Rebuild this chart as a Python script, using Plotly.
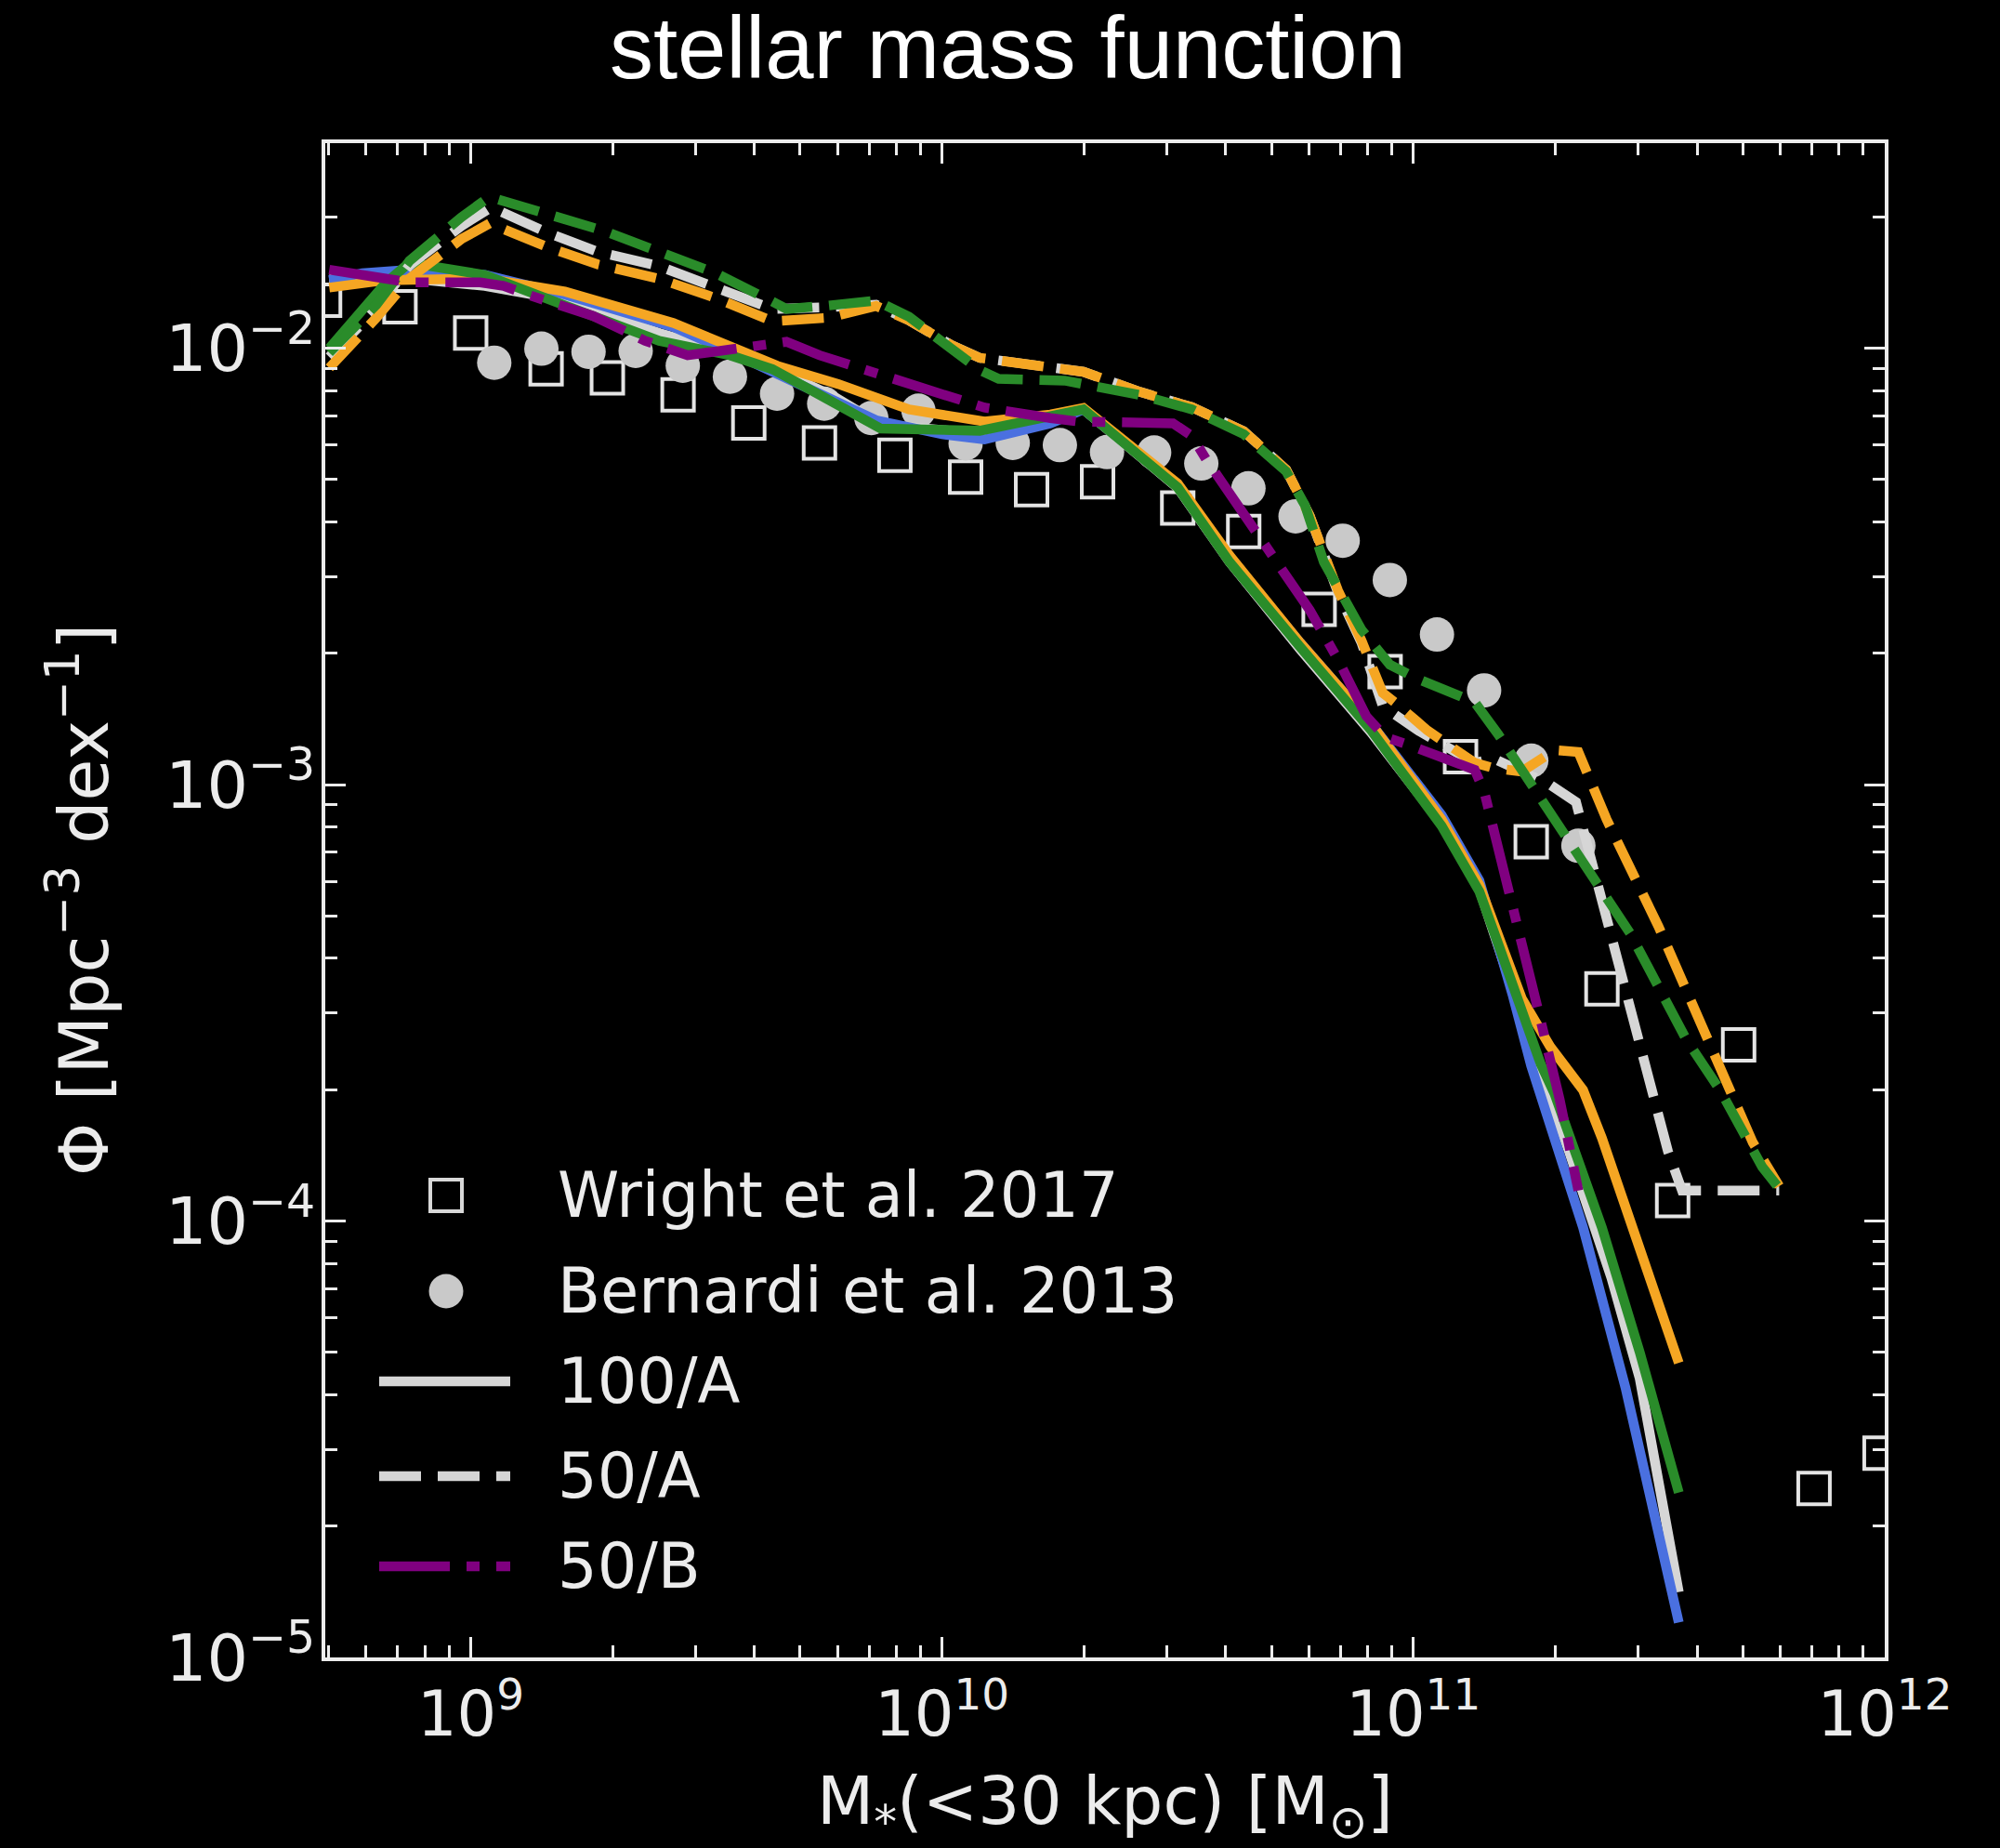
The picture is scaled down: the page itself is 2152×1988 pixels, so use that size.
import numpy as np
import plotly.graph_objects as go

# ---------------- data (log10 M*/Msun , log10 Phi [Mpc^-3 dex^-1]) ----------------
wright_logm = [8.69, 8.85, 9.00, 9.16, 9.29, 9.44, 9.59, 9.74, 9.90, 10.05, 10.19, 10.33,
               10.50, 10.64, 10.80, 10.94, 11.10, 11.25, 11.40, 11.55, 11.69, 11.85, 11.99]
wright_logphi = [-1.89, -1.905, -1.965, -2.047, -2.068, -2.107, -2.171, -2.217, -2.245, -2.295,
                 -2.324, -2.306, -2.366, -2.420, -2.598, -2.741, -2.936, -3.131, -3.468, -3.953,
                 -3.596, -4.613, -4.532]

bernardi_logm = [9.05, 9.15, 9.25, 9.35, 9.45, 9.55, 9.65, 9.75, 9.85, 9.95, 10.05, 10.15,
                 10.25, 10.35, 10.45, 10.55, 10.65, 10.75, 10.85, 10.95, 11.05, 11.15, 11.25, 11.35]
bernardi_logphi = [-2.033, -2.001, -2.008, -2.006, -2.040, -2.065, -2.104, -2.127, -2.160, -2.143,
                   -2.218, -2.217, -2.222, -2.238, -2.239, -2.264, -2.321, -2.385, -2.441, -2.531,
                   -2.656, -2.784, -2.945, -3.140]

# 100/A (solid) runs
solid_grey_logm = [8.70, 8.87, 9.03, 9.20, 9.40, 9.55, 9.65, 9.77, 9.87, 10.08, 10.30, 10.50,
                   10.61, 10.76, 10.91, 11.06, 11.14, 11.25, 11.33, 11.42, 11.48, 11.563]
solid_grey_logphi = [-1.84, -1.84, -1.857, -1.89, -1.965, -2.012, -2.05, -2.11, -2.175, -2.195,
                     -2.14, -2.32, -2.49, -2.69, -2.88, -3.09, -3.24, -3.60, -3.84, -4.13, -4.36, -4.85]

solid_blue_logm = [8.70, 8.77, 8.87, 9.03, 9.20, 9.43, 9.55, 9.65, 9.76, 9.86, 10.00, 10.09,
                   10.23, 10.30, 10.50, 10.61, 10.76, 10.91, 11.06, 11.14, 11.21, 11.25, 11.36,
                   11.45, 11.563]
solid_blue_logphi = [-1.844, -1.828, -1.820, -1.832, -1.877, -1.951, -2.008, -2.057, -2.112, -2.165,
                     -2.197, -2.209, -2.172, -2.140, -2.315, -2.48, -2.675, -2.86, -3.07, -3.22,
                     -3.48, -3.645, -4.015, -4.382, -4.92]

solid_orange_logm = [8.70, 8.82, 9.03, 9.20, 9.43, 9.65, 9.78, 9.93, 10.09, 10.23, 10.30, 10.50,
                     10.61, 10.76, 10.91, 11.06, 11.14, 11.23, 11.29, 11.36, 11.40, 11.48, 11.563]
solid_orange_logphi = [-1.861, -1.844, -1.84, -1.87, -1.942, -2.040, -2.082, -2.140, -2.168, -2.152,
                       -2.137, -2.31, -2.475, -2.675, -2.86, -3.08, -3.23, -3.49, -3.60, -3.70,
                       -3.81, -4.056, -4.325]

solid_green_logm = [8.70, 8.75, 8.82, 8.87, 9.03, 9.20, 9.40, 9.55, 9.64, 9.71, 9.77, 9.87,
                    10.08, 10.30, 10.50, 10.61, 10.76, 10.91, 11.06, 11.14, 11.18, 11.23, 11.27,
                    11.30, 11.40, 11.48, 11.563]
solid_green_logphi = [-2.00, -1.94, -1.85, -1.804, -1.832, -1.902, -1.983, -2.016, -2.048, -2.089,
                      -2.125, -2.184, -2.189, -2.140, -2.319, -2.490, -2.685, -2.875, -3.095, -3.245,
                      -3.365, -3.515, -3.640, -3.71, -4.015, -4.30, -4.622]

# 50/A (dashed) runs
dash_grey_logm = [8.70, 8.80, 8.87, 8.98, 9.044, 9.16, 9.27, 9.40, 9.52, 9.64, 9.76, 9.86, 9.93,
                  10.02, 10.08, 10.17, 10.30, 10.42, 10.53, 10.64, 10.73, 10.78, 10.84, 10.89,
                  10.935, 11.01, 11.13, 11.17, 11.29, 11.345, 11.54, 11.57, 11.776]
dash_grey_logphi = [-2.02, -1.91, -1.81, -1.72, -1.677, -1.734, -1.779, -1.812, -1.861, -1.910,
                    -1.906, -1.900, -1.936, -1.993, -2.022, -2.034, -2.054, -2.100, -2.135, -2.190,
                    -2.278, -2.384, -2.560, -2.675, -2.820, -2.876, -2.950, -2.940, -3.000, -3.040,
                    -3.840, -3.930, -3.930]

dash_orange_logm = [8.70, 8.80, 8.87, 8.98, 9.04, 9.16, 9.27, 9.40, 9.52, 9.64, 9.76, 9.86, 9.93,
                    10.02, 10.08, 10.17, 10.30, 10.42, 10.53, 10.64, 10.73, 10.78, 10.84, 10.89,
                    10.935, 10.96, 11.03, 11.13, 11.17, 11.23, 11.30, 11.35, 11.41, 11.52, 11.67,
                    11.72, 11.776]
dash_orange_logphi = [-2.045, -1.93, -1.84, -1.75, -1.714, -1.767, -1.808, -1.841, -1.885, -1.938,
                      -1.930, -1.903, -1.936, -1.993, -2.022, -2.034, -2.054, -2.100, -2.135, -2.190,
                      -2.278, -2.384, -2.555, -2.670, -2.790, -2.811, -2.876, -2.950, -2.962, -2.970,
                      -2.921, -2.925, -3.080, -3.325, -3.699, -3.820, -3.920]

dash_green_logm = [8.70, 8.80, 8.87, 8.98, 9.04, 9.16, 9.28, 9.40, 9.52, 9.64, 9.67, 9.76, 9.86,
                   9.93, 10.02, 10.08, 10.12, 10.26, 10.42, 10.53, 10.64, 10.73, 10.77, 10.81,
                   10.89, 10.95, 11.01, 11.09, 11.13, 11.18, 11.25, 11.33, 11.46, 11.58, 11.65,
                   11.74, 11.776]
dash_green_logphi = [-2.01, -1.90, -1.80, -1.70, -1.653, -1.690, -1.730, -1.779, -1.828, -1.893,
                     -1.910, -1.902, -1.891, -1.928, -2.001, -2.050, -2.070, -2.074, -2.107, -2.140,
                     -2.197, -2.282, -2.360, -2.490, -2.645, -2.725, -2.758, -2.795, -2.811, -2.885,
                     -2.999, -3.121, -3.341, -3.586, -3.699, -3.876, -3.925]

# 50/B (dash-dot) run
dashdot_purple_logm = [8.70, 8.77, 8.87, 9.02, 9.07, 9.12, 9.26, 9.37, 9.46, 9.55, 9.67, 9.74,
                       9.80, 9.85, 9.99, 10.09, 10.23, 10.29, 10.49, 10.53, 10.56, 10.64, 10.70,
                       10.78, 10.84, 10.90, 10.94, 10.99, 11.13, 11.15, 11.20, 11.26, 11.31, 11.35]
dashdot_purple_logphi = [-1.820, -1.832, -1.849, -1.849, -1.857, -1.877, -1.926, -1.983, -2.016,
                         -2.003, -1.985, -2.016, -2.036, -2.058, -2.103, -2.136, -2.160, -2.168,
                         -2.172, -2.201, -2.254, -2.376, -2.474, -2.600, -2.713, -2.843, -2.891,
                         -2.909, -2.966, -3.015, -3.227, -3.496, -3.720, -3.930]

# axis ticks
x_major = [1e9, 1e10, 1e11, 1e12]
x_major_text = ["10<sup>9</sup>", "10<sup>10</sup>", "10<sup>11</sup>", "10<sup>12</sup>"]
y_major = [1e-5, 1e-4, 1e-3, 1e-2]
y_major_text = ["10<sup>\u22125</sup>", "10<sup>\u22124</sup>", "10<sup>\u22123</sup>", "10<sup>\u22122</sup>"]
x_minor = [m * 10.0 ** e for e in (8, 9, 10, 11) for m in range(2, 10)]
y_minor = [m * 10.0 ** e for e in (-5, -4, -3, -2) for m in range(2, 10)]

legend_labels = ["Wright et al. 2017", "Bernardi et al. 2013", "100/A", "50/A", "50/B"]

# ---------------- styling ----------------
W, H = 2152, 1988
ML, MR, MT, MB = 350, 124, 154, 205
PW, PH = W - ML - MR, H - MT - MB
FONT = "DejaVu Sans, Verdana, sans-serif"
FG = "#ececec"
GREY = "#d6d6d6"
BLUE = "#4a70e0"
ORANGE = "#f5a623"
GREEN = "#2a8c2a"
PURPLE = "#800080"
LW = 10.5
DASH = "45px,18px"
DASHDOT = "76px,18px,14px,18px"


def px_x(fx):
    return (fx - ML) / PW


def px_y(fy):
    return (H - MB - fy) / PH


def line(logm, logphi, color, dash):
    return go.Scatter(x=10 ** np.asarray(logm), y=10 ** np.asarray(logphi), mode="lines",
                      line=dict(color=color, width=LW, dash=dash), showlegend=False,
                      hoverinfo="skip")


fig = go.Figure()
fig.add_trace(go.Scatter(x=10 ** np.asarray(wright_logm), y=10 ** np.asarray(wright_logphi),
                         mode="markers", name=legend_labels[0], showlegend=False,
                         marker=dict(symbol="square-open", size=34, color="#e4e4e4",
                                     line=dict(width=4, color="#e4e4e4"))))
fig.add_trace(go.Scatter(x=10 ** np.asarray(bernardi_logm), y=10 ** np.asarray(bernardi_logphi),
                         mode="markers", name=legend_labels[1], showlegend=False,
                         marker=dict(symbol="circle", size=37, color="#c9c9c9", line=dict(width=0))))

fig.add_trace(line(solid_grey_logm, solid_grey_logphi, GREY, "solid"))
fig.add_trace(line(solid_blue_logm, solid_blue_logphi, BLUE, "solid"))
fig.add_trace(line(solid_orange_logm, solid_orange_logphi, ORANGE, "solid"))
fig.add_trace(line(solid_green_logm, solid_green_logphi, GREEN, "solid"))
fig.add_trace(line(dash_grey_logm, dash_grey_logphi, GREY, DASH))
fig.add_trace(line(dash_orange_logm, dash_orange_logphi, ORANGE, DASH))
fig.add_trace(line(dash_green_logm, dash_green_logphi, GREEN, DASH))
fig.add_trace(line(dashdot_purple_logm, dashdot_purple_logphi, PURPLE, DASHDOT))

axis_common = dict(
    type="log", showgrid=False, zeroline=False, showline=True, linecolor=FG, linewidth=3.5,
    mirror="ticks", ticks="inside", ticklen=22, tickwidth=3, tickcolor=FG, tickmode="array",
)

fig.update_layout(
    width=W, height=H, autosize=False,
    margin=dict(l=ML, r=MR, t=MT, b=MB, pad=0),
    paper_bgcolor="black", plot_bgcolor="black",
    showlegend=False,
    xaxis=dict(range=[8.6915, 12.0], tickvals=x_major, ticktext=x_major_text,
               tickfont=dict(family=FONT, size=67, color=FG),
               minor=dict(tickmode="array", tickvals=x_minor, ticks="inside", ticklen=13,
                          tickwidth=2.5, tickcolor=FG, showgrid=False),
               **axis_common),
    yaxis=dict(range=[-5.0, -1.53], tickvals=y_major, ticktext=y_major_text,
               tickfont=dict(family=FONT, size=70, color=FG), ticklabelstandoff=-7,
               minor=dict(tickmode="array", tickvals=y_minor, ticks="inside", ticklen=13,
                          tickwidth=2.5, tickcolor=FG, showgrid=False),
               **axis_common),
)

ann = []
ann.append(dict(text="stellar mass function", xref="paper", yref="paper",
                x=px_x(1084), y=px_y(52), xanchor="center", yanchor="middle", showarrow=False,
                font=dict(family="Liberation Sans, Arial, Helvetica, sans-serif", size=94,
                          color="white")))
ann.append(dict(text="M<sub>*</sub>(&lt;30 kpc) [M<sub>\u2299</sub>]", xref="paper",
                yref="paper", x=px_x(1189), y=px_y(1942), xanchor="center", yanchor="middle",
                showarrow=False, font=dict(family=FONT, size=71, color=FG)))
ann.append(dict(text="\u03a6 [Mpc<sup>\u22123</sup> dex<sup>\u22121</sup>]", xref="paper",
                yref="paper", x=px_x(86), y=px_y(968), xanchor="center", yanchor="middle",
                textangle=-90, showarrow=False, font=dict(family=FONT, size=73, color=FG)))

# legend (drawn manually so that handle sizes match the plot markers)
rows = [1286, 1389, 1486, 1588, 1685]
sym_cx = 480
hx0, hx1 = 408, 549
shapes = []
s = 17
shapes.append(dict(type="rect", xref="paper", yref="paper",
                   x0=px_x(sym_cx - s), x1=px_x(sym_cx + s),
                   y0=px_y(rows[0] + s), y1=px_y(rows[0] - s),
                   line=dict(color="#d8d8d8", width=4), fillcolor="rgba(0,0,0,0)"))
r = 18.5
shapes.append(dict(type="circle", xref="paper", yref="paper",
                   x0=px_x(sym_cx - r), x1=px_x(sym_cx + r),
                   y0=px_y(rows[1] + r), y1=px_y(rows[1] - r),
                   line=dict(width=0, color="#c9c9c9"), fillcolor="#c9c9c9"))
for row, color, dash in [(rows[2], GREY, "solid"), (rows[3], GREY, DASH), (rows[4], PURPLE, DASHDOT)]:
    shapes.append(dict(type="line", xref="paper", yref="paper",
                       x0=px_x(hx0), x1=px_x(hx1), y0=px_y(row), y1=px_y(row),
                       line=dict(color=color, width=LW, dash=dash)))
for row, label in zip(rows, legend_labels):
    ann.append(dict(text=label, xref="paper", yref="paper", x=px_x(598), y=px_y(row),
                    xanchor="left", yanchor="middle", showarrow=False,
                    font=dict(family=FONT, size=67, color=FG)))

fig.update_layout(annotations=ann, shapes=shapes)
fig.write_html("out.html", config={"displayModeBar": False},
               post_script="document.body.style.margin='0px';"
                           "document.body.style.overflow='hidden';")
